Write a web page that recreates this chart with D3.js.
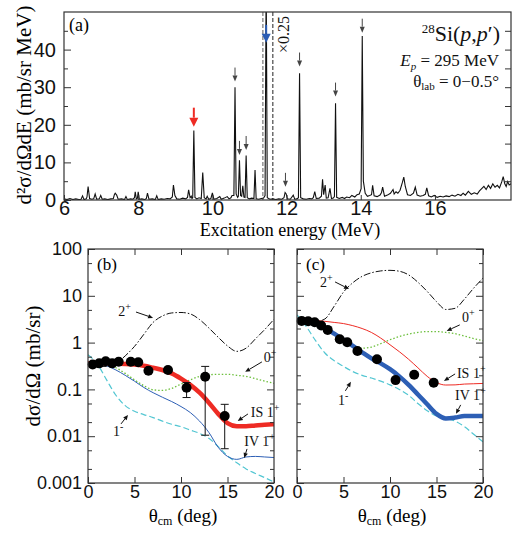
<!DOCTYPE html>
<html>
<head>
<meta charset="utf-8">
<script src="https://cdn.jsdelivr.net/npm/d3@7"></script>
<style>
  body { margin: 0; background: #fff; }
  svg { font-family: "Liberation Serif", "Times New Roman", serif; }
</style>
</head>
<body>
<div id="chart"></div>
<script>
// ---- panel (a): spectrum, [E (MeV), d2sigma (mb/sr MeV)]
const spectrum = [
  [6.00,0.3],[6.08,0.1],[6.16,0.4],[6.24,0.1],[6.32,0.3],[6.40,0.1],[6.46,0.2],[6.50,1.1],[6.54,0.1],[6.60,0.3],
  [6.62,0.8],[6.65,3.6],[6.69,0.4],[6.75,0.2],[6.80,0.3],[6.84,1.6],[6.88,0.2],[6.95,0.3],[6.99,1.2],[7.03,0.2],
  [7.10,0.3],[7.18,0.1],[7.26,0.3],[7.33,0.4],[7.36,1.5],[7.38,1.8],[7.42,1.3],[7.46,0.2],[7.55,0.3],[7.63,0.1],
  [7.67,0.9],[7.71,0.1],[7.80,0.3],[7.86,0.2],[7.90,0.6],[7.92,2.2],[7.95,0.3],[7.98,0.5],[8.00,2.2],[8.03,0.2],
  [8.10,0.3],[8.18,0.1],[8.22,0.4],[8.25,1.8],[8.29,0.2],[8.38,0.3],[8.46,0.1],[8.50,1.1],[8.54,0.1],[8.62,0.3],
  [8.70,0.2],[8.78,0.4],[8.86,0.3],[8.92,0.8],[8.95,4.0],[8.99,1.2],[9.04,0.3],[9.12,0.2],[9.20,0.5],[9.28,0.3],
  [9.33,0.7],[9.36,2.7],[9.40,0.6],[9.43,1.0],[9.45,0.4],[9.47,0.6],[9.50,18.5],[9.53,0.7],[9.58,0.3],[9.64,0.6],
  [9.70,0.4],[9.74,7.3],[9.78,0.6],[9.83,0.3],[9.86,1.0],[9.90,0.2],[9.96,0.4],[10.00,1.9],[10.04,0.2],[10.12,0.4],
  [10.20,0.9],[10.24,0.2],[10.32,0.5],[10.40,0.9],[10.45,0.3],[10.50,0.6],[10.53,1.2],[10.58,1.2],[10.61,30.0],[10.64,1.6],
  [10.68,0.7],[10.70,1.0],[10.73,10.6],[10.76,1.2],[10.79,1.0],[10.82,3.8],[10.85,0.8],[10.88,0.7],[10.91,11.8],[10.94,0.6],
  [11.00,0.3],[11.06,0.5],[11.12,0.4],[11.15,8.0],[11.18,0.3],[11.25,0.2],[11.32,0.4],[11.38,0.5],[11.42,1.2],[11.45,60],
  [11.48,0.6],[11.55,0.2],[11.63,0.3],[11.71,0.1],[11.79,0.3],[11.87,0.2],[11.93,0.6],[11.96,2.0],[11.99,1.6],[12.02,0.3],
  [12.10,0.2],[12.18,1.3],[12.22,0.2],[12.28,0.3],[12.32,0.6],[12.35,33.7],[12.38,0.6],[12.45,0.3],[12.53,0.2],[12.61,0.4],
  [12.68,0.3],[12.72,0.6],[12.76,2.2],[12.80,0.4],[12.88,0.5],[12.94,1.0],[12.97,5.5],[13.00,1.4],[13.04,4.0],[13.07,0.5],
  [13.12,0.6],[13.17,3.1],[13.21,0.4],[13.26,0.5],[13.29,0.9],[13.32,25.7],[13.35,0.7],[13.42,0.4],[13.50,0.7],[13.56,0.4],
  [13.62,0.8],[13.70,0.6],[13.76,1.2],[13.84,0.8],[13.90,1.4],[13.96,1.6],[14.01,3.0],[14.04,43.6],[14.07,5.0],[14.12,1.8],
  [14.18,1.0],[14.24,1.2],[14.29,1.4],[14.32,3.9],[14.36,1.1],[14.44,0.9],[14.52,1.3],[14.56,2.0],[14.59,3.4],[14.64,1.0],
  [14.72,1.3],[14.80,1.8],[14.87,2.8],[14.90,1.6],[14.95,2.2],[15.00,1.8],[15.06,2.6],[15.12,4.6],[15.16,6.1],[15.20,3.6],
  [15.26,1.4],[15.34,1.2],[15.42,1.8],[15.47,3.4],[15.52,1.3],[15.60,1.0],[15.68,1.2],[15.74,1.5],[15.78,3.2],[15.83,1.1],
  [15.90,0.8],[15.98,1.2],[16.06,0.7],[16.14,1.0],[16.22,0.8],[16.30,1.1],[16.38,0.9],[16.46,1.3],[16.54,1.0],[16.62,1.5],
  [16.70,1.2],[16.76,1.8],[16.82,1.3],[16.90,2.3],[16.98,1.5],[17.06,1.9],[17.14,1.6],[17.20,2.4],[17.26,3.0],[17.32,3.6],
  [17.38,2.8],[17.44,3.9],[17.50,3.1],[17.56,4.3],[17.62,3.4],[17.68,3.9],[17.74,3.2],[17.80,4.8],[17.84,6.2],[17.88,4.4],
  [17.92,3.6],[17.96,4.9],[18.00,4.0],[18.05,4.3]
];
const xTicksA = [6, 8, 10, 12, 14, 16];
const yTicksA = [0, 10, 20, 30, 40];
const yMinorA = [5, 15, 25, 35, 45];
// small black arrows: energy and tip height
const arrowE = [10.61, 10.73, 10.91, 11.97, 12.35, 13.32, 14.04];
const arrowTip = [31.5, 12.0, 13.3, 3.5, 35.5, 27.5, 44.5];
const redArrow = [9.50, 19.5];
const blueArrow = [11.45, 41.8];
const dashGrayE = 11.36;
const dashBlackE = 11.63;

// ---- panels (b), (c): angular distributions
const theta = [0,1,2,3,4,5,6,7,8,9,10,11,12,13,14,15,16,17,18,19,20];
const b2plus = [0.33,0.31,0.31,0.36,0.52,0.83,1.5,2.7,3.7,4.3,4.4,4.1,3.1,2.05,1.3,0.85,0.65,0.76,1.2,1.9,3.16];
const b0plus = [0.37,0.36,0.34,0.29,0.22,0.16,0.12,0.098,0.095,0.105,0.13,0.16,0.19,0.205,0.21,0.21,0.20,0.19,0.17,0.15,0.135];
const bIS = [0.36,0.36,0.36,0.355,0.35,0.34,0.32,0.29,0.26,0.22,0.17,0.125,0.085,0.052,0.030,0.019,0.0163,0.0163,0.017,0.0175,0.018];
const bIV = [0.38,0.36,0.32,0.26,0.20,0.15,0.11,0.085,0.068,0.055,0.043,0.032,0.021,0.012,0.0058,0.0037,0.0032,0.0036,0.0037,0.0036,0.0035];
const bE1 = [0.55,0.35,0.16,0.075,0.045,0.034,0.029,0.025,0.021,0.018,0.016,0.0135,0.0115,0.009,0.006,0.0038,0.0027,0.002,0.0016,0.0013,0.00105];

const c2plus = [2.8,2.8,2.8,3.2,6.0,12,19,26,31,34,35,33.5,28,19.5,12.4,7.5,5.1,5.4,8.5,14.6,23.9];
const c0plus = [3.0,2.9,2.6,2.05,1.5,1.12,0.85,0.76,0.8,0.95,1.15,1.35,1.52,1.65,1.72,1.72,1.65,1.55,1.38,1.22,1.1];
const cIS = [3.0,3.0,2.95,2.85,2.7,2.55,2.3,2.0,1.65,1.25,0.9,0.64,0.44,0.29,0.19,0.14,0.124,0.125,0.13,0.132,0.134];
const cIV = [3.0,2.9,2.6,2.05,1.55,1.15,0.85,0.62,0.46,0.36,0.27,0.19,0.125,0.078,0.048,0.030,0.024,0.025,0.027,0.027,0.027];
const cE1 = [3.9,2.2,1.1,0.6,0.41,0.31,0.24,0.20,0.175,0.15,0.125,0.10,0.075,0.05,0.035,0.027,0.024,0.021,0.016,0.011,0.0076];

const dataTheta = [0.5,1.2,1.9,2.6,3.3,4.6,5.4,6.5,8.6,10.6,12.6,14.7];
const bData = [0.34,0.36,0.40,0.36,0.39,0.39,0.38,0.25,0.26,0.108,0.187,0.027];
const bErrLo = [null,null,null,null,null,null,null,null,null,0.067,0.0105,0.0054];
const bErrHi = [null,null,null,null,null,null,null,null,null,0.14,0.31,0.048];
const cData = [2.91,2.87,2.73,2.31,1.87,1.18,1.02,0.66,0.44,0.158,0.206,0.139];

const xTicksB = [0, 5, 10, 15, 20];
const yTicksB = [0.001, 0.01, 0.1, 1, 10, 100];
const yMinorB = [0.002,0.005,0.02,0.05,0.2,0.5,2,5,20,50];

// annotation: label, superscript, text anchor point, arrow tail, arrow tip (theta, value)
const bNotes = [
  ["2", "+", [4.6, 3.7], [5.16, 4.5], [7.0, 3.37], "end"],
  ["0", "+", [18.9, 0.387], [18.7, 0.387], [16.9, 0.237], "start"],
  ["IS 1", "+", [17.5, 0.0258], [17.2, 0.0299], [16.1, 0.0212], "start"],
  ["IV 1", "+", [16.8, 0.0062], [17.1, 0.00535], [16.8, 0.00344], "start"],
  ["1", "-", [2.7, 0.0101], [3.55, 0.0183], [4.3, 0.0285], "start"]
];
const cNotes = [
  ["2", "+", [2.47, 15.5], [4.09, 19.8], [5.59, 14.0], "start"],
  ["0", "+", [17.74, 2.77], [17.5, 2.39], [16.1, 1.78], "start"],
  ["IS 1", "+", [17.2, 0.176], [17.0, 0.214], [15.8, 0.152], "start"],
  ["IV 1", "+", [17.0, 0.0597], [17.6, 0.0467], [17.1, 0.030], "start"],
  ["1", "-", [4.4, 0.0467], [5.2, 0.093], [5.8, 0.145], "start"]
];

const svg = d3.select("#chart").append("svg")
  .attr("width", 528).attr("height", 542);

const ink = "#333";

function styleAxis(g, fs) {
  g.select(".domain").remove();
  g.selectAll(".tick line").attr("stroke", ink);
  g.selectAll(".tick text").attr("fill", "#111").style("font-size", fs + "px");
}

function arrowHead(g, x1, y1, x2, y2, color, len, half, sw) {
  const a = Math.atan2(y2 - y1, x2 - x1);
  const bx = x2 - len * Math.cos(a), by = y2 - len * Math.sin(a);
  g.append("line").attr("x1", x1).attr("y1", y1).attr("x2", bx).attr("y2", by)
    .attr("stroke", color).attr("stroke-width", sw);
  const p = [[x2, y2],
    [bx + half * Math.sin(a), by - half * Math.cos(a)],
    [bx - half * Math.sin(a), by + half * Math.cos(a)]];
  g.append("path").attr("d", "M" + p.join("L") + "Z").attr("fill", color);
}

// ================= panel (a)
const xa = d3.scaleLinear().domain([6, 18.05]).range([64, 511]);
const ya = d3.scaleLinear().domain([0, 50]).range([200, 12]);
const ga = svg.append("g");

svg.append("clipPath").attr("id", "clipA").append("rect")
  .attr("x", 64).attr("y", 12).attr("width", 447).attr("height", 188);

ga.append("line").attr("x1", xa(dashGrayE)).attr("x2", xa(dashGrayE))
  .attr("y1", 12).attr("y2", 200).attr("stroke", "#999").attr("stroke-width", 1.6)
  .attr("stroke-dasharray", "4,2");
ga.append("line").attr("x1", xa(dashBlackE)).attr("x2", xa(dashBlackE))
  .attr("y1", 12).attr("y2", 200).attr("stroke", "#222").attr("stroke-width", 1)
  .attr("stroke-dasharray", "4,2");

ga.append("path").datum(spectrum)
  .attr("clip-path", "url(#clipA)")
  .attr("fill", "none").attr("stroke", "#111").attr("stroke-width", 1.1)
  .attr("d", d3.line().x(d => xa(d[0])).y(d => ya(d[1])));

ga.append("g").attr("transform", "translate(64,0)")
  .call(d3.axisLeft(ya).tickValues(yTicksA).tickSize(-7).tickPadding(8))
  .call(g => styleAxis(g, 20));
ga.append("g").attr("transform", "translate(64,0)")
  .call(d3.axisLeft(ya).tickValues(yMinorA).tickSize(-4).tickFormat(""))
  .call(g => styleAxis(g, 20));
ga.append("g").attr("transform", "translate(511,0)")
  .call(d3.axisRight(ya).tickValues(yMinorA.concat(yTicksA.slice(1))).tickSize(-6).tickFormat(""))
  .call(g => styleAxis(g, 20));
ga.append("g").attr("transform", "translate(0,200)")
  .call(d3.axisBottom(xa).tickValues(xTicksA).tickSize(-5).tickPadding(1))
  .call(g => styleAxis(g, 20));

ga.append("rect").attr("x", 64).attr("y", 12).attr("width", 447).attr("height", 188)
  .attr("fill", "none").attr("stroke", ink).attr("stroke-width", 1.2);

arrowE.forEach((e, i) => {
  const t = ya(arrowTip[i]);
  arrowHead(ga, xa(e), t - 14, xa(e), t, "#444", 6, 2.5, 1);
});
arrowHead(ga, xa(redArrow[0]), ya(redArrow[1]) - 19, xa(redArrow[0]), ya(redArrow[1]), "#ee2b24", 9, 4.5, 2);
arrowHead(ga, xa(blueArrow[0]), ya(blueArrow[1]) - 18, xa(blueArrow[0]), ya(blueArrow[1]), "#2a5cb3", 9, 4.5, 2);

ga.append("text").attr("transform", "translate(289,53) rotate(-90)")
  .style("font-size", "16px").attr("fill", "#111").text("×0.25");

ga.append("text").attr("x", 69).attr("y", 31).style("font-size", "18px").text("(a)");

const t1 = ga.append("text").attr("x", 500).attr("y", 41).attr("text-anchor", "end")
  .style("font-size", "22px").attr("fill", "#111");
t1.append("tspan").attr("dy", -8).style("font-size", "13px").text("28");
t1.append("tspan").attr("dy", 8).text("Si(");
t1.append("tspan").style("font-style", "italic").text("p");
t1.append("tspan").text(",");
t1.append("tspan").style("font-style", "italic").text("p");
t1.append("tspan").text("′)");

const t2 = ga.append("text").attr("x", 499).attr("y", 66).attr("text-anchor", "end")
  .style("font-size", "17px").attr("fill", "#111");
t2.append("tspan").style("font-style", "italic").text("E");
t2.append("tspan").attr("dy", 4).style("font-size", "11px").style("font-style", "italic").text("p");
t2.append("tspan").attr("dy", -4).text(" = 295 MeV");

const t3 = ga.append("text").attr("x", 499).attr("y", 87).attr("text-anchor", "end")
  .style("font-size", "17px").attr("fill", "#111");
t3.append("tspan").text("θ");
t3.append("tspan").attr("dy", 3).style("font-size", "11px").text("lab");
t3.append("tspan").attr("dy", -3).text(" = 0−0.5°");

svg.append("text").attr("x", 290).attr("y", 236).attr("text-anchor", "middle")
  .style("font-size", "18px").text("Excitation energy (MeV)");
svg.append("text").attr("transform", "translate(31,105) rotate(-90)")
  .attr("text-anchor", "middle").style("font-size", "21px")
  .text("d²σ/dΩdE (mb/sr MeV)");

// ================= panels (b), (c)
const yb = d3.scaleLog().domain([0.001, 100]).range([483, 249]);

function drawPanel(x0, id, curves, pts, errLo, errHi, notes, label, showY) {
  const x = d3.scaleLinear().domain([0, 20]).range([x0, x0 + 186]);
  const g = svg.append("g");
  svg.append("clipPath").attr("id", id).append("rect")
    .attr("x", x0).attr("y", 249).attr("width", 186).attr("height", 234);
  const line = d3.line().curve(d3.curveMonotoneX)
    .x((d, i) => x(theta[i])).y(d => yb(d));
  const cg = g.append("g").attr("clip-path", "url(#" + id + ")");
  curves.forEach(c => {
    cg.append("path").datum(c.v).attr("fill", "none")
      .attr("stroke", c.color).attr("stroke-width", c.w)
      .attr("stroke-dasharray", c.dash || null)
      .attr("d", line);
  });
  pts.forEach((v, i) => {
    if (errLo[i] != null) {
      const xx = x(dataTheta[i]);
      g.append("line").attr("x1", xx).attr("x2", xx).attr("y1", yb(errLo[i])).attr("y2", yb(errHi[i]))
        .attr("stroke", "#111").attr("stroke-width", 1);
      [errLo[i], errHi[i]].forEach(e => g.append("line").attr("x1", xx - 4).attr("x2", xx + 4)
        .attr("y1", yb(e)).attr("y2", yb(e)).attr("stroke", "#111").attr("stroke-width", 1));
    }
  });
  g.selectAll("circle.pt").data(pts).enter().append("circle").attr("class", "pt")
    .attr("cx", (d, i) => x(dataTheta[i])).attr("cy", d => yb(d)).attr("r", 5).attr("fill", "#000");

  g.append("g").attr("transform", "translate(" + x0 + ",0)")
    .call(d3.axisLeft(yb).tickValues(yTicksB).tickSize(-7).tickPadding(6)
      .tickFormat(showY ? d => String(d) : ""))
    .call(a => styleAxis(a, 18));
  g.append("g").attr("transform", "translate(" + x0 + ",0)")
    .call(d3.axisLeft(yb).tickValues(yMinorB).tickSize(-4).tickFormat(""))
    .call(a => styleAxis(a, 18));
  g.append("g").attr("transform", "translate(" + (x0 + 186) + ",0)")
    .call(d3.axisRight(yb).tickValues(yTicksB).tickSize(-7).tickFormat(""))
    .call(a => styleAxis(a, 18));
  g.append("g").attr("transform", "translate(" + (x0 + 186) + ",0)")
    .call(d3.axisRight(yb).tickValues(yMinorB).tickSize(-4).tickFormat(""))
    .call(a => styleAxis(a, 18));
  g.append("g").attr("transform", "translate(0,483)")
    .call(d3.axisBottom(x).tickValues(xTicksB).tickSize(-6).tickPadding(2))
    .call(a => styleAxis(a, 18));
  g.append("g").attr("transform", "translate(0,249)")
    .call(d3.axisTop(x).tickValues(xTicksB).tickSize(-6).tickFormat(""))
    .call(a => styleAxis(a, 18));
  g.append("rect").attr("x", x0).attr("y", 249).attr("width", 186).attr("height", 234)
    .attr("fill", "none").attr("stroke", ink).attr("stroke-width", 1.2);

  notes.forEach(n => {
    const t = g.append("text").attr("x", x(n[2][0])).attr("y", yb(n[2][1]))
      .attr("text-anchor", n[5]).style("font-size", "14px").attr("fill", "#111");
    t.append("tspan").text(n[0]);
    t.append("tspan").attr("dy", -6).style("font-size", "10px").text(n[1]);
    arrowHead(g, x(n[3][0]), yb(n[3][1]), x(n[4][0]), yb(n[4][1]), "#111", 5, 2.2, 1);
  });

  g.append("text").attr("x", x0 + 9).attr("y", 270).style("font-size", "17px").text(label);

  const xt = g.append("text").attr("x", x0 + 95).attr("y", 522).attr("text-anchor", "middle")
    .style("font-size", "19px");
  xt.append("tspan").text("θ");
  xt.append("tspan").attr("dy", 3).style("font-size", "12px").text("cm");
  xt.append("tspan").attr("dy", -3).text(" (deg)");
}

const red = "#ee2b24", blue = "#2d5fb5", cyan = "#52c6d2", green = "#6cbf3c";

drawPanel(88, "clipB", [
  { v: b2plus, color: "#111", w: 1, dash: "7,2,1.5,2" },
  { v: b0plus, color: green, w: 1.3, dash: "1.5,2" },
  { v: bE1, color: cyan, w: 1.2, dash: "6,3" },
  { v: bIV, color: blue, w: 1 },
  { v: bIS, color: red, w: 4.5 }
], bData, bErrLo, bErrHi, bNotes, "(b)", true);

drawPanel(297, "clipC", [
  { v: c2plus, color: "#111", w: 1, dash: "7,2,1.5,2" },
  { v: c0plus, color: green, w: 1.3, dash: "1.5,2" },
  { v: cE1, color: cyan, w: 1.2, dash: "6,3" },
  { v: cIS, color: red, w: 1 },
  { v: cIV, color: blue, w: 4.5 }
], cData, cData.map(() => null), cData.map(() => null), cNotes, "(c)", false);

svg.append("text").attr("transform", "translate(40,366) rotate(-90)")
  .attr("text-anchor", "middle").style("font-size", "21px").text("dσ/dΩ (mb/sr)");
</script>
</body>
</html>
